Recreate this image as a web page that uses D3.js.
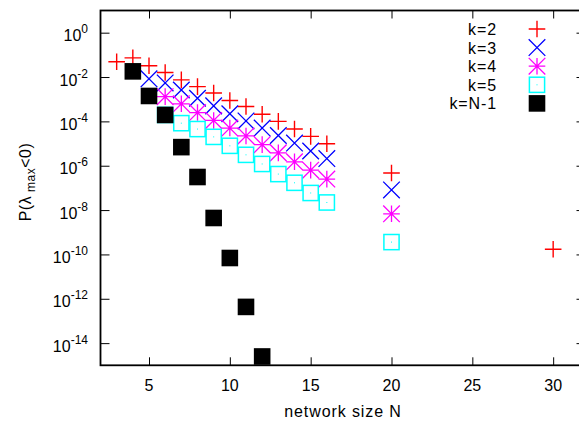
<!DOCTYPE html>
<html>
<head>
<meta charset="utf-8">
<script src="https://cdn.jsdelivr.net/npm/d3@7"></script>
<style>
  body { margin: 0; background: #fff; }
  text { font-family: "Liberation Sans", Arial, sans-serif; fill: #000; }
</style>
</head>
<body>
<div id="chart"></div>
<script>
// network sizes and P(lambda_max < 0) per k
const sizesK2 = [3, 4, 5, 6, 7, 8, 9, 10, 11, 12, 13, 14, 15, 16, 20, 30];
const probK2 = [4.9e-2, 7.3e-2, 3.2e-2, 1.6e-2, 7.4e-3, 3.7e-3, 1.9e-3, 8.7e-4, 4.7e-4, 2.1e-4, 1.0e-4, 4.5e-5, 2.1e-5, 9.8e-6, 4.7e-7, 1.7e-10];

const sizesK3 = [5, 6, 7, 8, 9, 10, 11, 12, 13, 14, 15, 16, 20];
const probK3 = [8.3e-3, 5.4e-3, 2.6e-3, 1.1e-3, 5.0e-4, 2.2e-4, 1.05e-4, 5.0e-5, 2.3e-5, 1.05e-5, 4.6e-6, 2.1e-6, 8.1e-8];

const sizesK4 = [6, 7, 8, 9, 10, 11, 12, 13, 14, 15, 16, 20];
const probK4 = [1.3e-3, 6.2e-4, 2.5e-4, 1.1e-4, 5.0e-5, 2.2e-5, 8.9e-6, 3.8e-6, 1.5e-6, 6.3e-7, 2.5e-7, 6.8e-9];

const sizesK5 = [6, 7, 8, 9, 10, 11, 12, 13, 14, 15, 16, 20];
const probK5 = [1.95e-4, 8.3e-5, 4.5e-5, 2.0e-5, 7.9e-6, 3.1e-6, 1.2e-6, 4.2e-7, 1.7e-7, 5.9e-8, 2.2e-8, 3.6e-10];

const sizesKN1 = [4, 5, 6, 7, 8, 9, 10, 11, 12];
const probKN1 = [1.8e-2, 1.4e-3, 1.95e-4, 6.9e-6, 3.1e-7, 4.4e-9, 6.9e-11, 4.3e-13, 2.5e-15];

const seriesNames = ["k=2", "k=3", "k=4", "k=5", "k=N-1"];
const xTicks = [5, 10, 15, 20, 25, 30];
const yTickExps = [0, -2, -4, -6, -8, -10, -12, -14];

const series = [
  { name: seriesNames[0], type: "plus", color: "#ff0000", xs: sizesK2, ys: probK2 },
  { name: seriesNames[1], type: "cross", color: "#0000ff", xs: sizesK3, ys: probK3 },
  { name: seriesNames[2], type: "star", color: "#ff00ff", xs: sizesK4, ys: probK4 },
  { name: seriesNames[3], type: "box", color: "#00ffff", xs: sizesK5, ys: probK5 },
  { name: seriesNames[4], type: "fill", color: "#000000", xs: sizesKN1, ys: probKN1 }
];

var W = 579, H = 421;
var margin = { top: 10.5, left: 100.5 },
  width = 485,
  height = 354.8;

var svg = d3.select("#chart").append("svg")
  .attr("width", W)
  .attr("height", H);

var x = d3.scaleLinear().domain([2, 32]).range([margin.left, margin.left + width]);
var y = d3.scaleLog().domain([1e-15, 1e1]).range([margin.top + height, margin.top]);

var yTicks = yTickExps.map(function (e) { return Math.pow(10, e); });

// ticks, all pointing inwards
svg.append("g")
  .attr("transform", "translate(0," + (margin.top + height) + ")")
  .call(d3.axisBottom(x).tickValues(xTicks).tickSize(-8).tickFormat(""));
svg.append("g")
  .attr("transform", "translate(0," + margin.top + ")")
  .call(d3.axisTop(x).tickValues(xTicks).tickSize(-8).tickFormat(""));
svg.append("g")
  .attr("transform", "translate(" + margin.left + ",0)")
  .call(d3.axisLeft(y).tickValues(yTicks).tickSize(-9).tickFormat(""));
svg.append("g")
  .attr("transform", "translate(" + (margin.left + width) + ",0)")
  .call(d3.axisRight(y).tickValues(yTicks).tickSize(-9).tickFormat(""));
svg.selectAll(".domain").remove();
svg.selectAll(".tick line").attr("stroke", "#000").attr("stroke-width", 1);

// frame
svg.append("rect")
  .attr("x", margin.left)
  .attr("y", margin.top)
  .attr("width", width)
  .attr("height", height)
  .attr("fill", "none")
  .attr("stroke", "#000")
  .attr("stroke-width", 1.8);

// x tick labels
svg.selectAll(".xlab")
  .data(xTicks)
  .enter().append("text")
  .attr("x", function (d) { return x(d); })
  .attr("y", margin.top + height + 26)
  .attr("text-anchor", "middle")
  .style("font-size", "16px")
  .text(function (d) { return d; });

// y tick labels: 10 with superscript exponent
var ylab = svg.selectAll(".ylab")
  .data(yTickExps)
  .enter().append("text")
  .attr("x", 88)
  .attr("y", function (d) { return y(Math.pow(10, d)) + 8.5; })
  .attr("text-anchor", "end")
  .style("font-size", "16px");
ylab.append("tspan").text("10");
ylab.append("tspan")
  .attr("dy", -8)
  .style("font-size", "12px")
  .text(function (d) { return d; });

// axis titles
svg.append("text")
  .attr("x", margin.left + width / 2)
  .attr("y", 417)
  .attr("text-anchor", "middle")
  .style("font-size", "16px")
  .style("letter-spacing", "0.9px")
  .text("network size N");

var yt = svg.append("text")
  .attr("transform", "translate(31," + 182 + ") rotate(-90)")
  .attr("text-anchor", "middle")
  .style("font-size", "16px")
  .style("letter-spacing", "0.5px");
yt.append("tspan").text("P(\u03bb");
yt.append("tspan").attr("dy", 4).style("font-size", "12px").text(" max");
yt.append("tspan").attr("dy", -4).text("<0)");

// point symbols
function drawSymbol(g, type, color) {
  var r = 8.3;
  if (type === "plus") {
    g.append("path").attr("d", "M" + (-r) + ",0H" + r + "M0," + (-r) + "V" + r)
      .attr("stroke", color).attr("stroke-width", 1.4).attr("fill", "none");
  } else if (type === "cross") {
    g.append("path").attr("d", "M" + (-r) + "," + (-r) + "L" + r + "," + r + "M" + (-r) + "," + r + "L" + r + "," + (-r))
      .attr("stroke", color).attr("stroke-width", 1.3).attr("fill", "none");
  } else if (type === "star") {
    g.append("path").attr("d", "M" + (-r) + ",0H" + r + "M0," + (-r) + "V" + r +
        "M" + (-r) + "," + (-r) + "L" + r + "," + r + "M" + (-r) + "," + r + "L" + r + "," + (-r))
      .attr("stroke", color).attr("stroke-width", 1.3).attr("fill", "none");
  } else if (type === "box") {
    g.append("rect").attr("x", -r + 0.7).attr("y", -r + 0.7)
      .attr("width", 2 * r - 1.4).attr("height", 2 * r - 1.4)
      .attr("stroke", color).attr("stroke-width", 1.5).attr("fill", "none");
    g.append("rect").attr("x", -0.5).attr("y", -0.5).attr("width", 1).attr("height", 1)
      .attr("fill", color);
  } else {
    g.append("rect").attr("x", -r).attr("y", -r)
      .attr("width", 2 * r).attr("height", 2 * r)
      .attr("fill", color);
  }
}

series.forEach(function (s) {
  var pts = s.xs.map(function (n, i) { return { n: n, p: s.ys[i] }; });
  svg.append("g").selectAll("g")
    .data(pts)
    .enter().append("g")
    .attr("transform", function (d) { return "translate(" + x(d.n) + "," + y(d.p) + ")"; })
    .each(function () { drawSymbol(d3.select(this), s.type, s.color); });
});

// legend
var legend = svg.append("g").selectAll("g")
  .data(series)
  .enter().append("g")
  .attr("transform", function (d, i) { return "translate(0," + (29 + i * 18.6) + ")"; });
legend.append("text")
  .attr("x", 497)
  .attr("y", 6)
  .attr("text-anchor", "end")
  .style("font-size", "16px")
  .style("letter-spacing", "0.9px")
  .text(function (d) { return d.name; });
legend.append("g")
  .attr("transform", "translate(537,0)")
  .each(function (d) { drawSymbol(d3.select(this), d.type, d.color); });
</script>
</body>
</html>
